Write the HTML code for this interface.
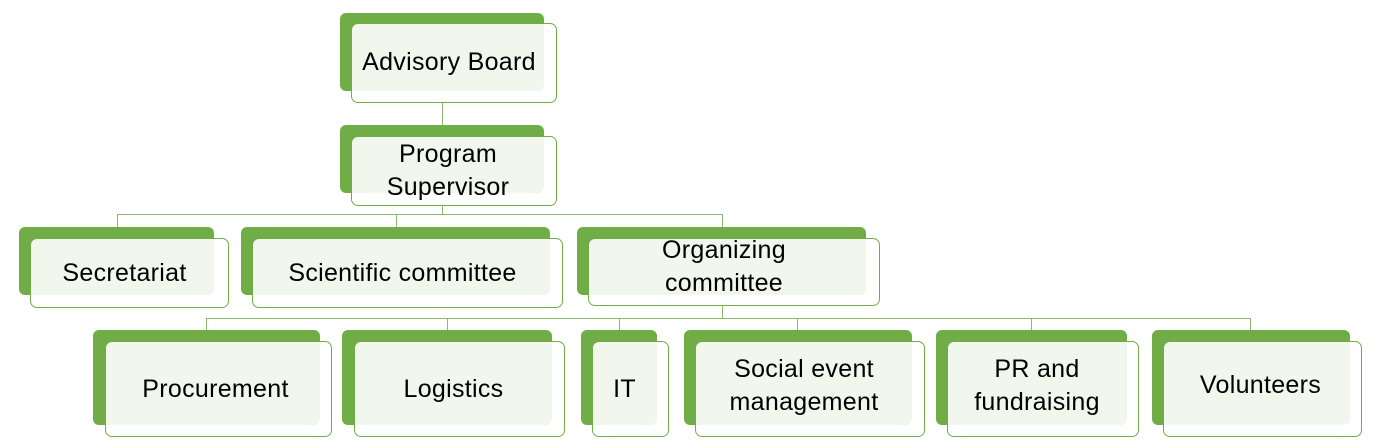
<!DOCTYPE html>
<html><head><style>
body{margin:0;width:1379px;height:448px;background:#fff;position:relative;overflow:hidden;font-family:"Liberation Sans",sans-serif}
.g{position:absolute;background:#70ad47;border-radius:6px}
.f{position:absolute;background:rgba(255,255,255,0.9);border:1px solid #70ad47;border-radius:7px;box-sizing:border-box;display:flex;align-items:center;justify-content:center;text-align:center;color:#000;font-size:25px;line-height:33px;letter-spacing:0.3px}
.l{position:absolute;background:#8ab96a}
</style></head><body>
<div class="l" style="left:442px;top:103px;width:1px;height:33px"></div>
<div class="l" style="left:442px;top:206px;width:1px;height:9px"></div>
<div class="l" style="left:117px;top:214px;width:606px;height:1px"></div>
<div class="l" style="left:117px;top:214px;width:1px;height:13px"></div>
<div class="l" style="left:396px;top:214px;width:1px;height:13px"></div>
<div class="l" style="left:722px;top:214px;width:1px;height:13px"></div>
<div class="l" style="left:722px;top:306px;width:1px;height:12px"></div>
<div class="l" style="left:206px;top:318px;width:1045px;height:1px"></div>
<div class="l" style="left:206px;top:318px;width:1px;height:12px"></div>
<div class="l" style="left:447px;top:318px;width:1px;height:12px"></div>
<div class="l" style="left:619px;top:318px;width:1px;height:12px"></div>
<div class="l" style="left:797px;top:318px;width:1px;height:12px"></div>
<div class="l" style="left:1031px;top:318px;width:1px;height:12px"></div>
<div class="l" style="left:1250px;top:318px;width:1px;height:12px"></div>

<div class="g" style="left:340px;top:13px;width:204px;height:78px"></div>
<div class="f" style="left:351px;top:23px;width:206px;height:80px;padding:0 10px 2px 0">Advisory Board</div>
<div class="g" style="left:340px;top:125px;width:204px;height:68px"></div>
<div class="f" style="left:351px;top:136px;width:206px;height:70px;padding-right:12px">Program<br>Supervisor</div>

<div class="g" style="left:19px;top:227px;width:195px;height:68px"></div>
<div class="f" style="left:30px;top:238px;width:199px;height:70px;padding-right:10px">Secretariat</div>
<div class="g" style="left:241px;top:227px;width:309px;height:68px"></div>
<div class="f" style="left:252px;top:238px;width:311px;height:70px;padding-right:10px">Scientific committee</div>
<div class="g" style="left:577px;top:227px;width:289px;height:68px"></div>
<div class="f" style="left:588px;top:238px;width:292px;height:68px;padding:0 20px 10px 0">Organizing<br>committee</div>

<div class="g" style="left:93px;top:330px;width:227px;height:95px"></div>
<div class="f" style="left:105px;top:341px;width:227px;height:96px;padding-right:6px">Procurement</div>
<div class="g" style="left:342px;top:330px;width:210px;height:95px"></div>
<div class="f" style="left:354px;top:341px;width:211px;height:96px;padding-right:12px">Logistics</div>
<div class="g" style="left:581px;top:330px;width:76px;height:95px"></div>
<div class="f" style="left:592px;top:341px;width:77px;height:96px;padding-right:12px">IT</div>
<div class="g" style="left:684px;top:330px;width:228px;height:95px"></div>
<div class="f" style="left:695px;top:341px;width:230px;height:96px;padding:0 12px 6px 0">Social event<br>management</div>
<div class="g" style="left:936px;top:330px;width:191px;height:95px"></div>
<div class="f" style="left:947px;top:341px;width:192px;height:96px;padding:0 12px 6px 0">PR and<br>fundraising</div>
<div class="g" style="left:1152px;top:330px;width:198px;height:95px"></div>
<div class="f" style="left:1163px;top:341px;width:199px;height:96px;padding:0 4px 8px 0">Volunteers</div>
</body></html>
